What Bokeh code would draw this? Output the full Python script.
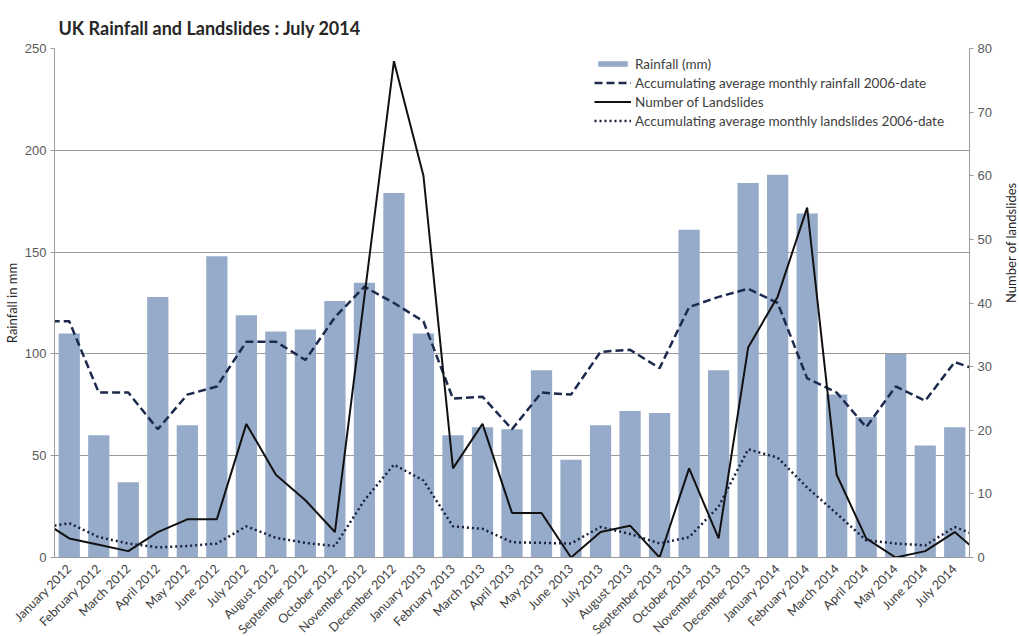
from bokeh.plotting import figure
from bokeh.models import LinearAxis, Range1d, ColumnDataSource, Legend, LegendItem, FixedTicker
from bokeh.embed import file_html
from bokeh.resources import INLINE
from math import pi

months = ["January 2012", "February 2012", "March 2012", "April 2012", "May 2012", "June 2012",
          "July 2012", "August 2012", "September 2012", "October 2012", "November 2012", "December 2012",
          "January 2013", "February 2013", "March 2013", "April 2013", "May 2013", "June 2013",
          "July 2013", "August 2013", "September 2013", "October 2013", "November 2013", "December 2013",
          "January 2014", "February 2014", "March 2014", "April 2014", "May 2014", "June 2014", "July 2014"]

rainfall = [110, 60, 37, 128, 65, 148, 119, 111, 112, 126, 135, 179,
            110, 60, 64, 63, 92, 48, 65, 72, 71, 161, 92, 184,
            188, 169, 80, 69, 100, 55, 64]

# line series include the neighbouring months (December 2011, August 2014), clipped by the plot area
line_months = ["December 2011"] + months + ["August 2014"]
avg_rainfall = [116, 116, 81, 81, 63, 80, 84, 106, 106, 97, 118, 133, 125,
                116, 78, 79, 63, 81, 80, 101, 102, 93, 123, 128, 132,
                125, 88, 81, 64, 84, 77, 96, 91]
landslides = [6, 3, 2, 1, 4, 6, 6, 21, 13, 9, 4, 41, 78,
              60, 14, 21, 7, 7, 0, 4, 5, 0, 14, 3, 33,
              41, 55, 13, 3, 0, 1, 4, 0]
avg_landslides = [4.6, 5.4, 3.2, 2.2, 1.6, 1.8, 2.2, 4.9, 3.1, 2.3, 1.8, 9.0, 14.6,
                  12.1, 4.9, 4.5, 2.4, 2.3, 2.2, 4.8, 3.7, 2.2, 3.2, 8.0, 17.0,
                  15.7, 11.0, 6.9, 2.7, 2.2, 1.9, 4.8, 3.0]

bar_src = ColumnDataSource(dict(x=list(range(len(months))), top=rainfall))
line_src = ColumnDataSource(dict(x=list(range(-1, len(months) + 1)),
                                 avg_rain=avg_rainfall, slides=landslides, avg_slides=avg_landslides))

BAR = "#96abc9"
TICK = "#595959"
AXIS = "#9a9a9a"
FONT = "Lato"

p = figure(frame_width=915, frame_height=509, output_backend="svg", toolbar_location=None,
           x_range=Range1d(-0.5, len(months) - 0.5), y_range=Range1d(0, 250),
           min_border_left=45, min_border_right=10, min_border_top=48, min_border_bottom=10)
p.extra_y_ranges = {"slides": Range1d(0, 80)}
p.outline_line_color = None
p.background_fill_color = "white"
p.border_fill_color = "white"

p.title.text = "UK Rainfall and Landslides : July 2014"
p.title.text_font = FONT
p.title.text_font_size = "18px"
p.title.text_font_style = "bold"
p.title.text_color = "#262626"
p.title.offset = 4
p.title.standoff = 20

bars = p.vbar(x="x", top="top", width=0.72, source=bar_src, fill_color=BAR, line_color=None)
r_avg_rain = p.line(x="x", y="avg_rain", source=line_src, line_color="#1c2a4e", line_width=2.5,
                    line_dash="8 4")
r_slides = p.line(x="x", y="slides", source=line_src, line_color="#111111", line_width=2,
                  y_range_name="slides")
r_avg_slides = p.line(x="x", y="avg_slides", source=line_src, line_color="#1a1f3a", line_width=2.5,
                      line_dash="2 3", y_range_name="slides")

# x axis
xa = p.xaxis[0]
xa.ticker = FixedTicker(ticks=list(range(len(months))))
xa.major_label_overrides = {i: m for i, m in enumerate(months)}
xa.major_label_orientation = pi / 4
xa.major_label_text_font = FONT
xa.major_label_text_font_size = "12.5px"
xa.major_label_text_color = "#404040"
xa.major_tick_line_color = None
xa.major_tick_out = 0
xa.major_tick_in = 0
xa.minor_tick_line_color = None
xa.axis_line_color = AXIS
xa.major_label_standoff = 9

# left axis
ya = p.yaxis[0]
ya.ticker = FixedTicker(ticks=[0, 50, 100, 150, 200, 250])
ya.axis_label = "Rainfall in mm"
ya.axis_label_text_font = FONT
ya.axis_label_text_font_size = "13px"
ya.axis_label_text_font_style = "normal"
ya.axis_label_text_color = "#262626"
ya.axis_label_standoff = 2
ya.major_label_text_font = "Liberation Sans"
ya.major_label_text_font_size = "13px"
ya.major_label_text_color = TICK
ya.major_label_standoff = 4
ya.major_tick_out = 4
ya.major_tick_in = 0
ya.minor_tick_line_color = None
ya.axis_line_color = AXIS
ya.major_tick_line_color = AXIS

# right axis
ra = LinearAxis(y_range_name="slides", ticker=FixedTicker(ticks=list(range(0, 81, 10))))
ra.axis_label = "Number of landslides"
ra.axis_label_text_font = FONT
ra.axis_label_text_font_size = "13px"
ra.axis_label_text_font_style = "normal"
ra.axis_label_text_color = "#262626"
ra.axis_label_standoff = 16
ra.major_label_text_font = "Liberation Sans"
ra.major_label_text_font_size = "13px"
ra.major_label_text_color = TICK
ra.major_label_standoff = 4
ra.major_tick_out = 4
ra.major_tick_in = 0
ra.minor_tick_line_color = None
ra.axis_line_color = AXIS
ra.major_tick_line_color = AXIS
try:
    ra.axis_label_orientation = pi / 2
except Exception:
    pass
p.add_layout(ra, "right")

p.xgrid.grid_line_color = None
p.ygrid.grid_line_color = AXIS
p.ygrid.grid_line_width = 1
p.ygrid.ticker = FixedTicker(ticks=[50, 100, 150, 200, 250])

legend = Legend(items=[
    LegendItem(label="Rainfall (mm)", renderers=[bars]),
    LegendItem(label="Accumulating average monthly rainfall 2006-date", renderers=[r_avg_rain]),
    LegendItem(label="Number of Landslides", renderers=[r_slides]),
    LegendItem(label="Accumulating average monthly landslides 2006-date", renderers=[r_avg_slides]),
], location=(540, 427))
legend.border_line_color = None
legend.background_fill_alpha = 0
legend.padding = 0
legend.margin = 0
legend.spacing = 0
legend.glyph_width = 37
legend.glyph_height = 7
legend.label_height = 19
legend.label_standoff = 4
legend.label_text_font = FONT
legend.label_text_font_size = "13.5px"
legend.label_text_color = "#404040"
p.add_layout(legend, "center")

open("out.html", "w").write(file_html(p, INLINE))
